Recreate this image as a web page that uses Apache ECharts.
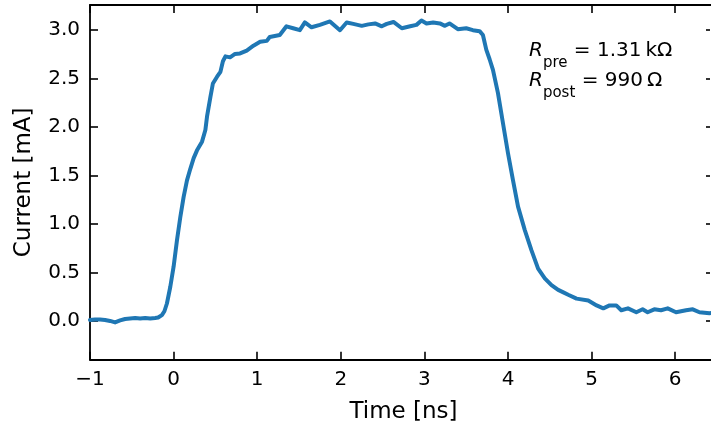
<!DOCTYPE html>
<html>
<head>
<meta charset="utf-8">
<script src="https://cdn.jsdelivr.net/npm/echarts@6/dist/echarts.min.js"></script>
<style>html,body{margin:0;padding:0;background:#fff}#c{width:711px;height:429px}</style>
</head>
<body>
<div id="c"></div>
<script>
const time = [-1.00,-0.94,-0.88,-0.82,-0.76,-0.70,-0.64,-0.58,-0.52,-0.46,-0.40,-0.34,-0.28,-0.22,-0.185,-0.14,-0.11,-0.08,-0.04,0.00,0.04,0.08,0.12,0.16,0.20,0.24,0.28,0.34,0.38,0.40,0.44,0.47,0.52,0.56,0.59,0.62,0.675,0.735,0.795,0.875,0.955,1.035,1.115,1.15,1.27,1.35,1.43,1.51,1.57,1.65,1.75,1.87,1.99,2.07,2.15,2.25,2.33,2.41,2.49,2.55,2.63,2.73,2.83,2.905,2.965,3.025,3.105,3.185,3.245,3.30,3.40,3.50,3.58,3.66,3.70,3.74,3.78,3.82,3.88,3.94,4.00,4.06,4.12,4.20,4.28,4.36,4.44,4.52,4.60,4.65,4.72,4.82,4.96,5.06,5.14,5.215,5.295,5.355,5.435,5.535,5.61,5.67,5.75,5.83,5.91,6.01,6.13,6.21,6.29,6.41,6.5];
const current = [0.01,0.015,0.015,0.01,0.0,-0.015,0.005,0.02,0.025,0.03,0.025,0.03,0.025,0.03,0.035,0.06,0.10,0.18,0.35,0.56,0.83,1.07,1.28,1.45,1.57,1.68,1.76,1.85,1.97,2.11,2.31,2.45,2.52,2.57,2.68,2.73,2.72,2.755,2.76,2.79,2.84,2.88,2.89,2.93,2.95,3.04,3.02,3.00,3.08,3.03,3.055,3.09,3.00,3.08,3.065,3.045,3.06,3.07,3.04,3.065,3.085,3.02,3.04,3.055,3.10,3.07,3.08,3.07,3.045,3.07,3.01,3.02,3.00,2.99,2.95,2.80,2.70,2.59,2.35,2.04,1.73,1.45,1.18,0.94,0.73,0.54,0.44,0.37,0.32,0.30,0.27,0.23,0.21,0.16,0.13,0.16,0.16,0.11,0.13,0.09,0.12,0.09,0.12,0.11,0.13,0.09,0.11,0.12,0.09,0.08,0.085];
const xTicks = [-1,0,1,2,3,4,5,6];
const yTicks = [0,0.5,1.0,1.5,2.0,2.5,3.0];
const xRange = [-1, 6.5];
const yRange = [-0.4, 3.26];

const FONT = 'DejaVu Sans';
const chart = echarts.init(document.getElementById('c'), null, {renderer:'canvas'});
const tickStyle = {show:true, inside:true, length:8, lineStyle:{color:'#000', width:1.6}};
const lineStyle = {color:'#000', width:1.8};
const fmtX = v => v < 0 ? '\u2212' + Math.abs(v) : String(v);
chart.setOption({
  animation:false,
  grid:{left:90, top:5, width:627, height:354.7, containLabel:false, outerBoundsMode:'none'},
  xAxis:[{
    type:'value', min:xRange[0], max:xRange[1], position:'bottom',
    axisLine:{show:true, onZero:false, lineStyle},
    axisTick:Object.assign({customValues:xTicks}, tickStyle),
    axisLabel:{customValues:xTicks, formatter:fmtX, color:'#000', fontFamily:FONT, fontSize:20, margin:10},
    splitLine:{show:false},
    name:'Time [ns]', nameLocation:'middle', nameGap:41,
    nameTextStyle:{color:'#000', fontFamily:FONT, fontSize:23}
  },{
    type:'value', min:xRange[0], max:xRange[1], position:'top',
    axisLine:{show:true, onZero:false, lineStyle},
    axisTick:Object.assign({customValues:xTicks}, tickStyle),
    axisLabel:{show:false}, splitLine:{show:false}
  }],
  yAxis:[{
    type:'value', min:yRange[0], max:yRange[1], position:'left',
    axisLine:{show:true, onZero:false, lineStyle},
    axisTick:Object.assign({customValues:yTicks}, tickStyle),
    axisLabel:{customValues:yTicks, formatter:v=>v.toFixed(1), color:'#000', fontFamily:FONT, fontSize:20, margin:10},
    splitLine:{show:false},
    name:'Current [mA]', nameLocation:'middle', nameGap:54,
    nameTextStyle:{color:'#000', fontFamily:FONT, fontSize:23}
  },{
    type:'value', min:yRange[0], max:yRange[1], position:'right', offset:-7,
    axisLine:{show:false, onZero:false},
    axisTick:{show:true, inside:true, length:4, customValues:yTicks, lineStyle:{color:'#000', width:1.6}},
    axisLabel:{show:false}, splitLine:{show:false}
  }],
  series:[{
    type:'line', xAxisIndex:0, yAxisIndex:0,
    data: time.map((t,i)=>[t,current[i]]),
    showSymbol:false, smooth:false,
    lineStyle:{color:'#1f77b4', width:4, cap:'round', join:'round'}, itemStyle:{color:'#1f77b4'}
  }],
  graphic:[{
    type:'text', left:529, top:41, z:100,
    style:{
      text:'{r|R}{s|pre}{n| = 1.31\u2009k\u03A9}\n{r|R}{s|post}{n| = 990\u2009\u03A9}',
      fill:'#000',
      rich:{
        r:{fontFamily:FONT, fontStyle:'italic', fontSize:20, lineHeight:30, verticalAlign:'top', fill:'#000'},
        s:{fontFamily:FONT, fontSize:15, lineHeight:18, verticalAlign:'bottom', fill:'#000'},
        n:{fontFamily:FONT, fontSize:20, lineHeight:30, verticalAlign:'top', fill:'#000'}
      }
    }
  }]
});
</script>
</body>
</html>
